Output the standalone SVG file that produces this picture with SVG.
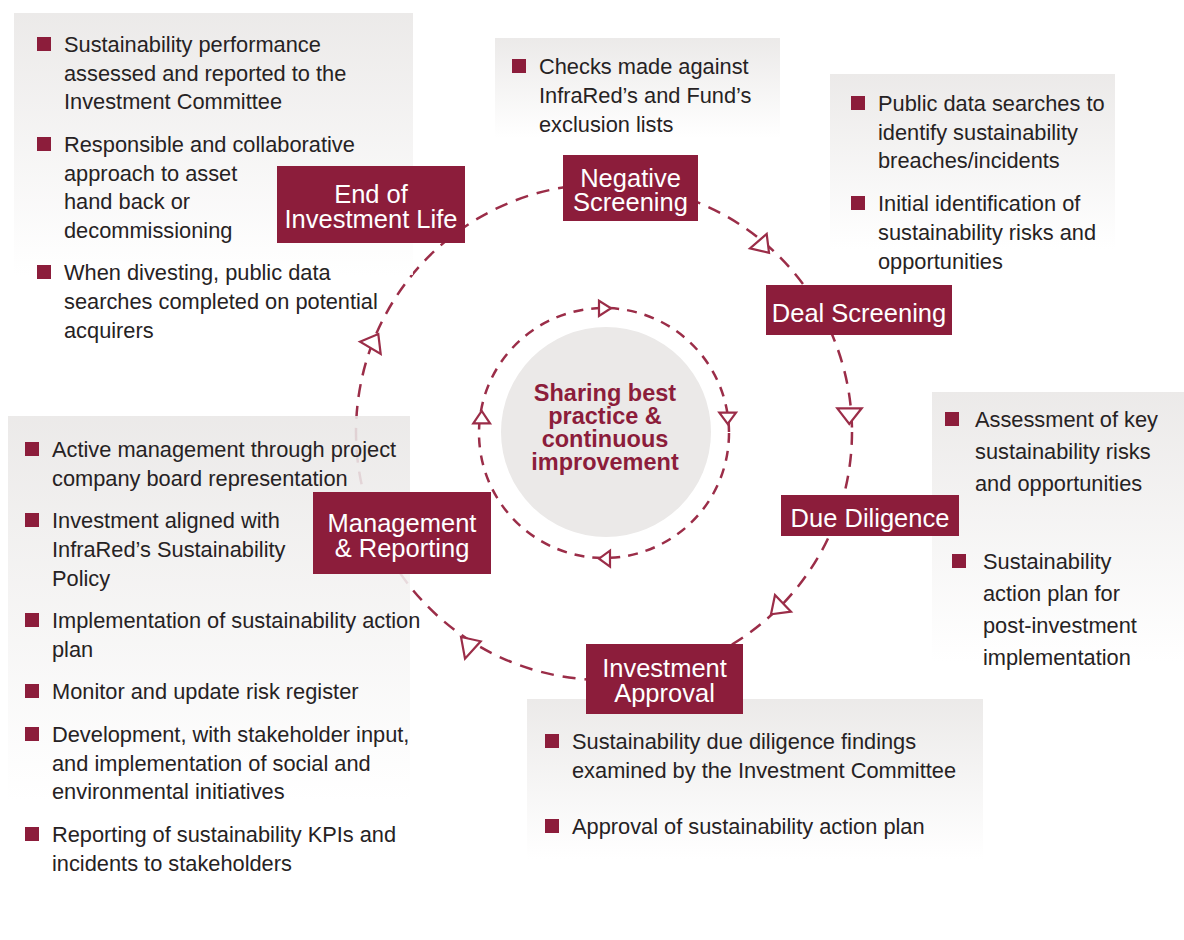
<svg xmlns="http://www.w3.org/2000/svg" width="1184" height="940" viewBox="0 0 1184 940">
<defs>
<linearGradient id="g" x1="0" y1="0" x2="0" y2="1">
<stop offset="0" stop-color="#e9e7e6" stop-opacity="0.88"/>
<stop offset="1" stop-color="#ffffff" stop-opacity="0.88"/>
</linearGradient>
<style>
.t{font-family:"Liberation Sans",Arial,sans-serif;font-size:21.8px;fill:#262223}
.lb{fill:#8c1d3b}
.lt{font-family:"Liberation Sans",Arial,sans-serif;font-size:25.5px;fill:#ffffff;text-anchor:middle}
.b{fill:#8c1d3b}
.ring{fill:none;stroke:#9b2d48;stroke-width:2.5}
.ah{fill:#ffffff;stroke:#9b2d48;stroke-width:2.2;stroke-linejoin:miter}
.ct{font-family:"Liberation Sans",Arial,sans-serif;font-size:23.5px;font-weight:bold;fill:#8c1d3b;text-anchor:middle}
</style>
</defs>
<rect width="1184" height="940" fill="#ffffff"/>

<g id="connectors">
<circle class="ring" cx="604" cy="432" r="248" stroke-dasharray="13 9"/>
<circle class="ring" cx="604" cy="433" r="125" stroke-dasharray="10 8"/>
<polygon class="ah" points="766.7,234 769,252.7 750,248.3"/>
<polygon class="ah" points="837.3,408.3 861.7,408.3 849.3,424"/>
<polygon class="ah" points="775,595 791,611.7 771,614.3"/>
<polygon class="ah" points="461,637 480.7,641.3 465,658.7"/>
<polygon class="ah" points="360,341.7 378.3,334 380.7,354"/>
<polygon class="ah" points="599,300.7 599,316 611,308.3"/>
<polygon class="ah" points="719.3,412.7 736,412.7 727.7,424"/>
<polygon class="ah" points="610,550.7 610,566.7 599,558.7"/>
<polygon class="ah" points="473.3,423.3 490,423.3 481.7,411"/>
</g>

<g id="center">
<circle cx="606" cy="432" r="105" fill="#ebe9e8"/>
<text class="ct"><tspan x="605" y="401">Sharing best</tspan><tspan x="605" y="424">practice &amp;</tspan><tspan x="605" y="447">continuous</tspan><tspan x="605" y="470">improvement</tspan></text>
</g>

<g id="end-of-investment-life">
<rect x="14" y="13" width="399" height="262" fill="url(#g)"/>
<rect class="b" x="37" y="37" width="14" height="14"/>
<text class="t"><tspan x="64" y="52">Sustainability performance</tspan><tspan x="64" y="81">assessed and reported to the</tspan><tspan x="64" y="109">Investment Committee</tspan></text>
<rect class="b" x="37" y="137" width="14" height="14"/>
<text class="t"><tspan x="64" y="152">Responsible and collaborative</tspan><tspan x="64" y="181">approach to asset</tspan><tspan x="64" y="209">hand back or</tspan><tspan x="64" y="238">decommissioning</tspan></text>
<rect class="b" x="37" y="265" width="14" height="14"/>
<text class="t"><tspan x="64" y="280">When divesting, public data</tspan><tspan x="64" y="309">searches completed on potential</tspan><tspan x="64" y="338">acquirers</tspan></text>
<rect class="lb" x="277" y="166" width="188" height="77"/>
<text class="lt"><tspan x="371" y="203">End of</tspan><tspan x="371" y="228">Investment Life</tspan></text>
</g>

<g id="negative-screening">
<rect x="495" y="38" width="285" height="100" fill="url(#g)"/>
<rect class="b" x="512" y="59" width="14" height="14"/>
<text class="t"><tspan x="539" y="74">Checks made against</tspan><tspan x="539" y="103">InfraRed’s and Fund’s</tspan><tspan x="539" y="132">exclusion lists</tspan></text>
<rect class="lb" x="563" y="155" width="135" height="66"/>
<text class="lt"><tspan x="630.5" y="187">Negative</tspan><tspan x="630.5" y="211">Screening</tspan></text>
</g>

<g id="deal-screening">
<rect x="830" y="74" width="285" height="175" fill="url(#g)"/>
<rect class="b" x="851" y="96" width="14" height="14"/>
<text class="t"><tspan x="878" y="111">Public data searches to</tspan><tspan x="878" y="140">identify sustainability</tspan><tspan x="878" y="168">breaches/incidents</tspan></text>
<rect class="b" x="851" y="196" width="14" height="14"/>
<text class="t"><tspan x="878" y="211">Initial identification of</tspan><tspan x="878" y="240">sustainability risks and</tspan><tspan x="878" y="269">opportunities</tspan></text>
<rect class="lb" x="766" y="285" width="186" height="50"/>
<text class="lt" x="859" y="322">Deal Screening</text>
</g>

<g id="due-diligence">
<rect x="932" y="392" width="252" height="270" fill="url(#g)"/>
<rect class="b" x="945" y="412" width="14" height="14"/>
<text class="t"><tspan x="975" y="427">Assessment of key</tspan><tspan x="975" y="459">sustainability risks</tspan><tspan x="975" y="491">and opportunities</tspan></text>
<rect class="b" x="952" y="554" width="14" height="14"/>
<text class="t"><tspan x="983" y="569">Sustainability</tspan><tspan x="983" y="601">action plan for</tspan><tspan x="983" y="633">post-investment</tspan><tspan x="983" y="665">implementation</tspan></text>
<rect class="lb" x="781" y="495" width="178" height="41"/>
<text class="lt" x="870" y="527">Due Diligence</text>
</g>

<g id="investment-approval">
<rect x="527" y="699" width="456" height="160" fill="url(#g)"/>
<rect class="b" x="545" y="734" width="14" height="14"/>
<text class="t"><tspan x="572" y="749">Sustainability due diligence findings</tspan><tspan x="572" y="778">examined by the Investment Committee</tspan></text>
<rect class="b" x="545" y="819" width="14" height="14"/>
<text class="t" x="572" y="834">Approval of sustainability action plan</text>
<rect class="lb" x="586" y="644" width="157" height="70"/>
<text class="lt"><tspan x="664.5" y="677">Investment</tspan><tspan x="664.5" y="702">Approval</tspan></text>
</g>

<g id="management-reporting">
<rect x="8" y="416" width="402" height="385" fill="url(#g)"/>
<rect class="b" x="25" y="442" width="14" height="14"/>
<text class="t"><tspan x="52" y="457">Active management through project</tspan><tspan x="52" y="486">company board representation</tspan></text>
<rect class="b" x="25" y="513" width="14" height="14"/>
<text class="t"><tspan x="52" y="528">Investment aligned with</tspan><tspan x="52" y="557">InfraRed’s Sustainability</tspan><tspan x="52" y="586">Policy</tspan></text>
<rect class="b" x="25" y="613" width="14" height="14"/>
<text class="t"><tspan x="52" y="628">Implementation of sustainability action</tspan><tspan x="52" y="657">plan</tspan></text>
<rect class="b" x="25" y="684" width="14" height="14"/>
<text class="t" x="52" y="699">Monitor and update risk register</text>
<rect class="b" x="25" y="727" width="14" height="14"/>
<text class="t"><tspan x="52" y="742">Development, with stakeholder input,</tspan><tspan x="52" y="771">and implementation of social and</tspan><tspan x="52" y="799">environmental initiatives</tspan></text>
<rect class="b" x="25" y="827" width="14" height="14"/>
<text class="t"><tspan x="52" y="842">Reporting of sustainability KPIs and</tspan><tspan x="52" y="871">incidents to stakeholders</tspan></text>
<rect class="lb" x="313" y="492" width="178" height="82"/>
<text class="lt"><tspan x="402" y="532">Management</tspan><tspan x="402" y="557">&amp; Reporting</tspan></text>
</g>
</svg>
